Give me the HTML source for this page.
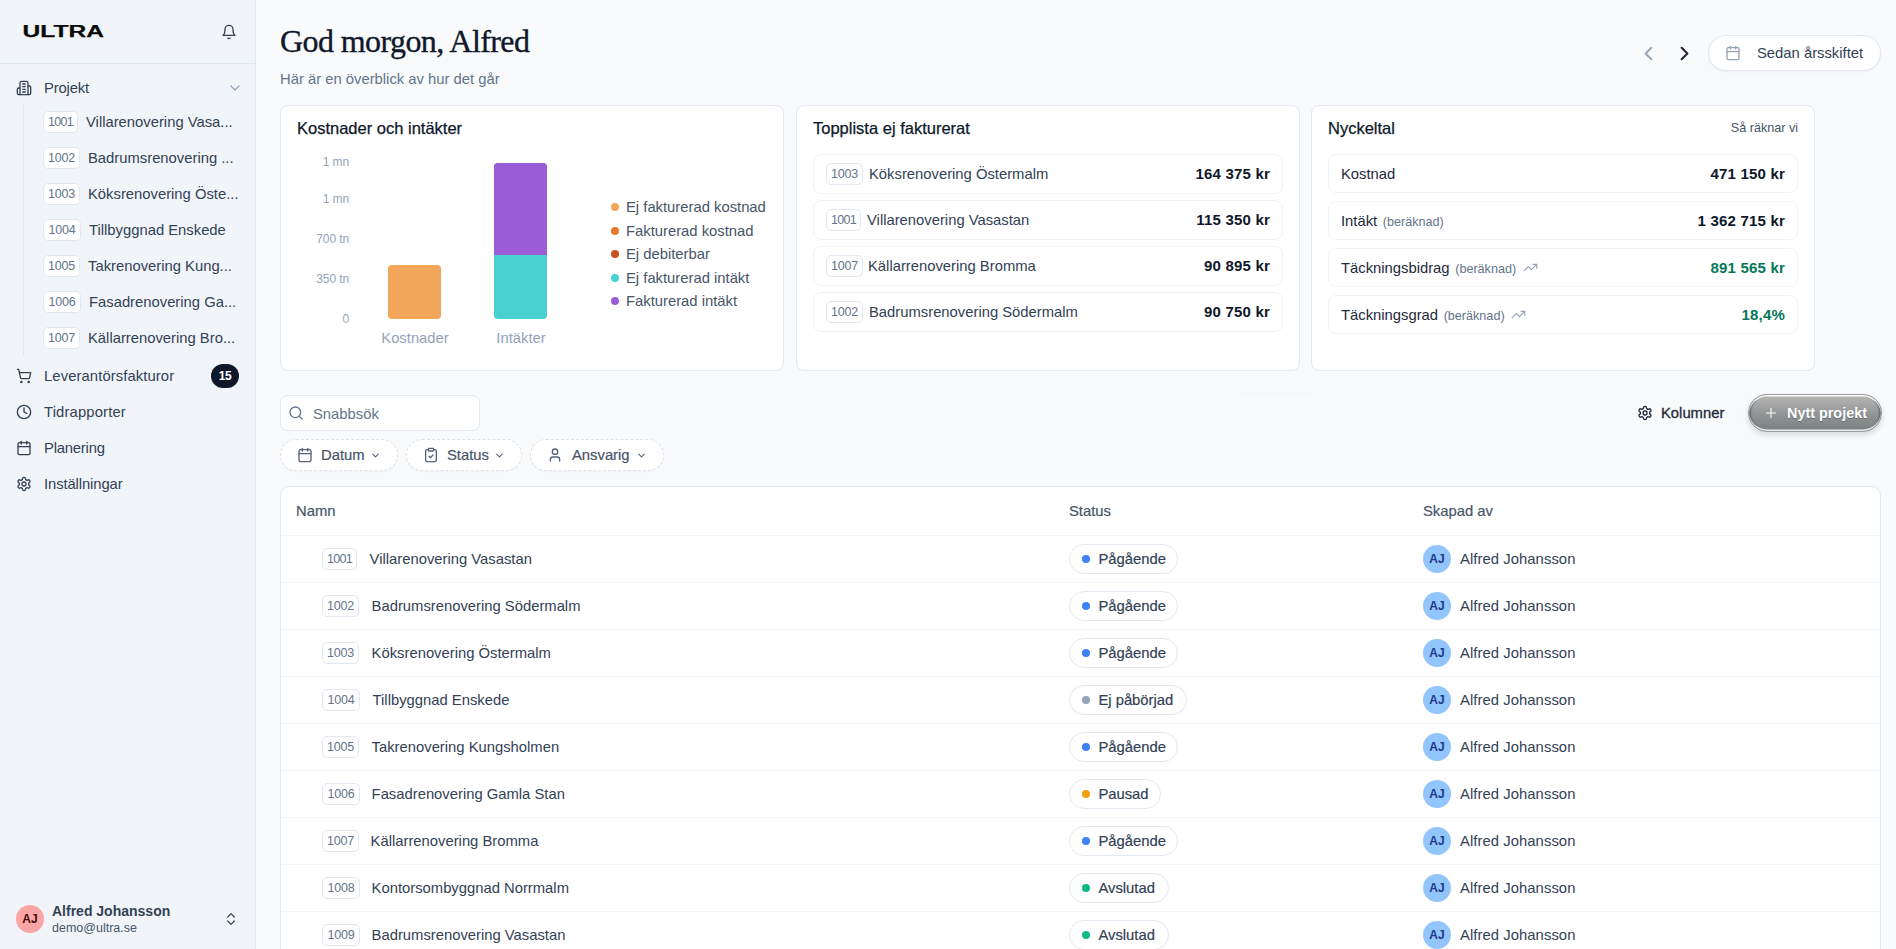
<!DOCTYPE html>
<html lang="sv">
<head>
<meta charset="utf-8">
<title>Ultra – Projekt</title>
<style>
*{box-sizing:border-box;margin:0;padding:0}
html,body{width:1896px;height:949px;overflow:hidden}
body{font-family:"Liberation Sans",Arial,sans-serif;background:#f8fafc;color:#334155;position:relative;font-size:15px;line-height:20px}
.abs{position:absolute}
svg.ic{position:absolute;width:16px;height:16px;fill:none;stroke:currentColor;stroke-width:2;stroke-linecap:round;stroke-linejoin:round}
.t{position:absolute;white-space:nowrap;line-height:20px}
/* sidebar */
#sb{position:absolute;left:0;top:0;width:256px;height:949px;background:#f1f5f9;border-right:1px solid #e2e8f0}
#sbh{position:absolute;left:0;top:0;width:255px;height:64px;border-bottom:1px solid #e2e8f0}
.nav{position:absolute;left:44px;font-size:14.8px;color:#334155;white-space:nowrap;line-height:20px}
.sub{position:absolute;left:43px;height:22px;display:flex;align-items:center;white-space:nowrap}
.bdg{display:inline-block;height:22px;line-height:20px;padding:0;width:36px;border:1px solid #e2e8f0;border-radius:5px;background:#fff;color:#64748b;font-size:12.5px;letter-spacing:-.15px;text-align:center;flex:none}
.sub .nm{margin-left:8px;font-size:14.8px;color:#334155}

/* header */
#h1{position:absolute;left:280px;top:20.5px;font-family:"Liberation Serif","Times New Roman",serif;font-size:32px;line-height:40px;color:#0f172a;white-space:nowrap;letter-spacing:-.58px;-webkit-text-stroke:.35px #0f172a}
#sub{position:absolute;left:280px;top:69px;font-size:14.8px;line-height:20px;color:#64748b;white-space:nowrap}
#datebtn{position:absolute;left:1708px;top:35px;width:173px;height:36px;border:1px solid #e2e8f0;border-radius:18px;background:#fff;box-shadow:0 1px 2px rgba(15,23,42,.06)}
/* cards */
.card{position:absolute;top:105px;width:504px;height:266px;background:#fff;border:1px solid #e2e8f0;border-radius:8px}
.ct{position:absolute;left:16px;top:12px;font-size:16.5px;line-height:20px;color:#0f172a;white-space:nowrap;letter-spacing:0;-webkit-text-stroke:.25px #0f172a}
.row{position:absolute;left:16px;width:470px;height:40px;border:1px solid #eff3f8;border-radius:8px;background:#fff}
.row .bdg{position:absolute;left:12px;top:8px}
.row .nm{position:absolute;top:9px;font-size:14.8px;line-height:20px;color:#334155;white-space:nowrap}
.row .amt{position:absolute;right:12px;top:9px;font-size:15px;letter-spacing:.2px;line-height:20px;font-weight:700;color:#0f172a;white-space:nowrap}
.row .sm{margin-left:1.5px;font-size:12.6px;color:#64748b}
.yl{position:absolute;right:434px;font-size:12px;line-height:12px;letter-spacing:-.1px;color:#94a3b8;white-space:nowrap;text-align:right}
.xl{position:absolute;top:222px;font-size:14.8px;line-height:20px;color:#94a3b8;white-space:nowrap;transform:translateX(-50%)}
.lg{position:absolute;left:345px;font-size:14.8px;line-height:20px;color:#475569;white-space:nowrap}
.lg i{position:absolute;left:-3px;top:6px;width:8px;height:8px;border-radius:50%;margin-left:-12px}

/* toolbar */
#search{position:absolute;left:280px;top:395px;width:200px;height:36px;border:1px solid #e2e8f0;border-radius:7px;background:#fff}
.pill{position:absolute;top:439px;height:32px;border:1px dashed #dbe2ea;border-radius:16px;background:#fff;box-shadow:0 1px 2px rgba(15,23,42,.04)}
.pill .t{top:5px;font-size:14.8px;color:#475569;-webkit-text-stroke:.2px #475569}
.pill svg.ic{top:7px;color:#55627a}
.pill svg.ch{width:11px;height:11px;top:10.4px;margin-left:-.5px;color:#526079;stroke-width:2.3}
#newbtn{position:absolute;left:1748px;top:394px;width:134px;height:38px;border-radius:19px;border:1px solid #9b9ea1;background:linear-gradient(180deg,#b6b6b4 0%,#a3a4a4 30%,#8d9192 60%,#7b8183 100%);box-shadow:inset 0 1.6px 0 0 rgba(255,255,255,.92),inset 0 -1.6px 0 0 rgba(255,255,255,.85),inset 2.5px 0 2px -1px rgba(30,41,59,.55),inset -2.5px 0 2px -1px rgba(30,41,59,.55),0 3px 6px rgba(15,23,42,.14)}
/* table */
#tbl{position:absolute;left:280px;top:486px;width:1601px;height:480px;background:#fff;border:1px solid #e2e8f0;border-radius:9px;overflow:hidden}
.th{position:absolute;top:14px;font-size:14.8px;line-height:20px;color:#475569;white-space:nowrap;-webkit-text-stroke:.2px #475569}
.tr{position:absolute;left:0;width:1599px;height:47px;border-top:1px solid #f1f5f9}
.tr .bdg{position:absolute;left:41px;top:12px;height:22px;line-height:20px}
.tr .nm{position:absolute;top:13px;font-size:14.8px;line-height:20px;color:#334155;white-space:nowrap}
.st{position:absolute;left:788px;top:8px;height:30px;border:1px solid #e2e8f0;border-radius:15px;background:#fff}
.st i{position:absolute;left:12px;top:10px;width:8px;height:8px;border-radius:50%}
.st span{position:absolute;left:28.4px;top:4px;font-size:14.8px;line-height:20px;color:#334155;white-space:nowrap;-webkit-text-stroke:.2px #334155}
.av{position:absolute;left:1142px;top:9px;width:28px;height:28px;border-radius:50%;background:#93c5fd;color:#1e3a8a;font-size:12px;font-weight:700;text-align:center;line-height:28px}
.un{position:absolute;left:1179px;top:13px;font-size:14.8px;letter-spacing:.07px;line-height:20px;color:#334155;white-space:nowrap}
</style>
</head>
<body>
<!-- SIDEBAR -->
<div id="sb">
  <div id="sbh"></div>
  <svg class="abs" style="left:22px;top:20px" width="90" height="24" viewBox="0 0 90 24"><text x="0.6" y="17.2" font-family="Liberation Sans, Arial, sans-serif" font-weight="700" font-size="16.8" fill="#0a0a0a" stroke="#0a0a0a" stroke-width=".25" textLength="81.5" lengthAdjust="spacingAndGlyphs">ULTRA</text></svg>
  <svg class="ic" style="left:221px;top:24px;color:#334155" viewBox="0 0 24 24"><path d="M6 8a6 6 0 0 1 12 0c0 7 3 9 3 9H3s3-2 3-9"/><path d="M10.3 21a1.94 1.94 0 0 0 3.4 0"/></svg>

  <svg class="ic" style="left:16px;top:80px;color:#334155" viewBox="0 0 24 24"><path d="M6 22V4a2 2 0 0 1 2-2h8a2 2 0 0 1 2 2v18Z"/><path d="M6 12H4a2 2 0 0 0-2 2v6a2 2 0 0 0 2 2h2"/><path d="M18 9h2a2 2 0 0 1 2 2v9a2 2 0 0 1-2 2h-2"/><path d="M10 6h4"/><path d="M10 10h4"/><path d="M10 14h4"/><path d="M10 18h4"/></svg>
  <div class="nav" style="top:78px;letter-spacing:-.15px">Projekt</div>
  <svg class="ic" style="left:227px;top:80px;color:#94a3b8;stroke-width:1.8" viewBox="0 0 24 24"><path d="m6 9 6 6 6-6"/></svg>
  <div class="abs" style="left:23px;top:104px;width:1px;height:252px;background:#e2e8f0"></div>

  <div class="sub" style="top:111px"><span class="bdg" style="width:35px;letter-spacing:-.75px">1001</span><span class="nm">Villarenovering Vasa...</span></div>
  <div class="sub" style="top:147px"><span class="bdg" style="width:37px">1002</span><span class="nm">Badrumsrenovering ...</span></div>
  <div class="sub" style="top:183px"><span class="bdg" style="width:37px">1003</span><span class="nm">Köksrenovering Öste...</span></div>
  <div class="sub" style="top:219px"><span class="bdg" style="width:38px">1004</span><span class="nm">Tillbyggnad Enskede</span></div>
  <div class="sub" style="top:255px"><span class="bdg" style="width:37px">1005</span><span class="nm">Takrenovering Kung...</span></div>
  <div class="sub" style="top:291px"><span class="bdg" style="width:38px">1006</span><span class="nm">Fasadrenovering Ga...</span></div>
  <div class="sub" style="top:327px"><span class="bdg" style="width:37px">1007</span><span class="nm">Källarrenovering Bro...</span></div>

  <svg class="ic" style="left:16px;top:368px;color:#334155" viewBox="0 0 24 24"><circle cx="8" cy="21" r="1"/><circle cx="19" cy="21" r="1"/><path d="M2.05 2.05h2l2.66 12.42a2 2 0 0 0 2 1.58h9.78a2 2 0 0 0 1.95-1.57l1.65-7.43H5.12"/></svg>
  <div class="nav" style="top:366px;letter-spacing:.1px">Leverantörsfakturor</div>
  <div class="abs" style="left:211px;top:364px;width:28px;height:24px;border-radius:12px;background:#0f172a;color:#fff;font-size:12px;font-weight:700;text-align:center;line-height:24px;letter-spacing:-.5px">15</div>

  <svg class="ic" style="left:16px;top:404px;color:#334155" viewBox="0 0 24 24"><circle cx="12" cy="12" r="10"/><polyline points="12 6 12 12 16 14"/></svg>
  <div class="nav" style="top:402px;letter-spacing:.15px">Tidrapporter</div>

  <svg class="ic" style="left:16px;top:440px;color:#334155" viewBox="0 0 24 24"><path d="M8 2v4"/><path d="M16 2v4"/><rect width="18" height="18" x="3" y="4" rx="2"/><path d="M3 10h18"/></svg>
  <div class="nav" style="top:438px;letter-spacing:-.2px">Planering</div>

  <svg class="ic" style="left:16px;top:476px;color:#334155" viewBox="0 0 24 24"><path d="M12.22 2h-.44a2 2 0 0 0-2 2v.18a2 2 0 0 1-1 1.73l-.43.25a2 2 0 0 1-2 0l-.15-.08a2 2 0 0 0-2.73.73l-.22.38a2 2 0 0 0 .73 2.73l.15.1a2 2 0 0 1 1 1.72v.51a2 2 0 0 1-1 1.74l-.15.09a2 2 0 0 0-.73 2.73l.22.38a2 2 0 0 0 2.73.73l.15-.08a2 2 0 0 1 2 0l.43.25a2 2 0 0 1 1 1.73V20a2 2 0 0 0 2 2h.44a2 2 0 0 0 2-2v-.18a2 2 0 0 1 1-1.73l.43-.25a2 2 0 0 1 2 0l.15.08a2 2 0 0 0 2.73-.73l.22-.39a2 2 0 0 0-.73-2.73l-.15-.08a2 2 0 0 1-1-1.74v-.5a2 2 0 0 1 1-1.74l.15-.09a2 2 0 0 0 .73-2.73l-.22-.38a2 2 0 0 0-2.73-.73l-.15.08a2 2 0 0 1-2 0l-.43-.25a2 2 0 0 1-1-1.73V4a2 2 0 0 0-2-2z"/><circle cx="12" cy="12" r="3"/></svg>
  <div class="nav" style="top:474px;letter-spacing:-.1px">Inställningar</div>

  <div class="abs" style="left:16px;top:905px;width:28px;height:28px;border-radius:50%;background:#fca5a5;color:#450a0a;font-size:12px;font-weight:700;text-align:center;line-height:28px">AJ</div>
  <div class="t" style="left:52px;top:901px;font-size:14px;font-weight:700;color:#334155">Alfred Johansson</div>
  <div class="t" style="left:52px;top:918px;font-size:12.5px;color:#475569">demo@ultra.se</div>
  <svg class="ic" style="left:223px;top:911px;color:#334155;stroke-width:1.8" viewBox="0 0 24 24"><path d="m7 15 5 5 5-5"/><path d="m7 9 5-5 5 5"/></svg>
</div>

<!-- MAIN -->
<div id="main">
<div id="h1">God morgon, Alfred</div>
<div id="sub">Här är en överblick av hur det går</div>
<svg class="ic" style="left:1636.5px;top:41.5px;width:23px;height:23px;color:#94a3b8" viewBox="0 0 24 24"><path d="m15 18-6-6 6-6"/></svg>
<svg class="ic" style="left:1672.5px;top:41.5px;width:23px;height:23px;color:#1e293b;stroke-width:2.2" viewBox="0 0 24 24"><path d="m9 18 6-6-6-6"/></svg>
<div id="datebtn">
  <svg class="ic" style="left:16px;top:9px;color:#94a3b8" viewBox="0 0 24 24"><path d="M8 2v4"/><path d="M16 2v4"/><rect width="18" height="18" x="3" y="4" rx="2"/><path d="M3 10h18"/></svg>
  <div class="t" style="left:48px;top:7px;font-size:14.8px;color:#334155">Sedan årsskiftet</div>
</div>

<!-- card 1 -->
<div class="card" style="left:280px">
  <div class="ct">Kostnader och intäkter</div>
  <div class="yl" style="top:50px">1 mn</div>
  <div class="yl" style="top:87px">1 mn</div>
  <div class="yl" style="top:127px">700 tn</div>
  <div class="yl" style="top:167px">350 tn</div>
  <div class="yl" style="top:207px">0</div>
  <div class="abs" style="left:107px;top:159px;width:53px;height:54px;border-radius:4px;background:#f2a65a"></div>
  <div class="abs" style="left:213px;top:57px;width:53px;height:156px;border-radius:4px;background:#48d1d1;overflow:hidden"><div style="height:92px;background:#9b5dd6"></div></div>
  <div class="xl" style="left:134px">Kostnader</div>
  <div class="xl" style="left:240px">Intäkter</div>
  <div class="lg" style="top:91px"><i style="background:#f2a65a"></i>Ej fakturerad kostnad</div>
  <div class="lg" style="top:115px"><i style="background:#e8772e"></i>Fakturerad kostnad</div>
  <div class="lg" style="top:138px"><i style="background:#c8511b"></i>Ej debiterbar</div>
  <div class="lg" style="top:162px"><i style="background:#48d1d1"></i>Ej fakturerad intäkt</div>
  <div class="lg" style="top:185px"><i style="background:#9b5dd6"></i>Fakturerad intäkt</div>
</div>
<!-- card 2 -->
<div class="card" style="left:796px">
  <div class="ct">Topplista ej fakturerat</div>
  <div class="row" style="top:48px"><span class="bdg" style="width:37px">1003</span><span class="nm" style="left:55px">Köksrenovering Östermalm</span><span class="amt">164 375 kr</span></div>
  <div class="row" style="top:94px"><span class="bdg" style="width:35px;letter-spacing:-.75px">1001</span><span class="nm" style="left:53px">Villarenovering Vasastan</span><span class="amt">115 350 kr</span></div>
  <div class="row" style="top:140px"><span class="bdg" style="width:37px">1007</span><span class="nm" style="left:54px">Källarrenovering Bromma</span><span class="amt">90 895 kr</span></div>
  <div class="row" style="top:186px"><span class="bdg" style="width:37px">1002</span><span class="nm" style="left:55px">Badrumsrenovering Södermalm</span><span class="amt">90 750 kr</span></div>
</div>
<!-- card 3 -->
<div class="card" style="left:1311px">
  <div class="ct">Nyckeltal</div>
  <div class="t" style="right:16px;top:12px;font-size:12.6px;color:#475569">Så räknar vi</div>
  <div class="row" style="top:48px;height:39px"><span class="nm" style="left:12px;color:#1e293b">Kostnad</span><span class="amt">471 150 kr</span></div>
  <div class="row" style="top:95px;height:39px"><span class="nm" style="left:12px;color:#1e293b">Intäkt <span class="sm">(beräknad)</span></span><span class="amt">1 362 715 kr</span></div>
  <div class="row" style="top:142px;height:39px"><span class="nm" style="left:12px;color:#1e293b">Täckningsbidrag <span class="sm">(beräknad)</span></span><svg class="ic" style="left:194px;top:11px;width:15px;height:15px;color:#94a3b8;stroke-width:1.8" viewBox="0 0 24 24"><polyline points="22 7 13.5 15.5 8.5 10.5 2 17"/><polyline points="16 7 22 7 22 13"/></svg><span class="amt" style="color:#047857">891 565 kr</span></div>
  <div class="row" style="top:189px;height:39px"><span class="nm" style="left:12px;color:#1e293b">Täckningsgrad <span class="sm">(beräknad)</span></span><svg class="ic" style="left:182px;top:11px;width:15px;height:15px;color:#94a3b8;stroke-width:1.8" viewBox="0 0 24 24"><polyline points="22 7 13.5 15.5 8.5 10.5 2 17"/><polyline points="16 7 22 7 22 13"/></svg><span class="amt" style="color:#047857">18,4%</span></div>
</div>

<div class="abs" style="left:1240px;top:393px;width:71px;height:1px;background:rgba(226,232,240,.3)"></div>
<div id="search">
  <svg class="ic" style="left:7px;top:9px;color:#64748b" viewBox="0 0 24 24"><circle cx="11" cy="11" r="8"/><path d="m21 21-4.3-4.3"/></svg>
  <div class="t" style="left:32px;top:8px;font-size:14.8px;color:#64748b">Snabbsök</div>
</div>
<div class="pill" style="left:280px;width:118px">
  <svg class="ic" style="left:16px" viewBox="0 0 24 24"><path d="M8 2v4"/><path d="M16 2v4"/><rect width="18" height="18" x="3" y="4" rx="2"/><path d="M3 10h18"/></svg>
  <div class="t" style="left:40px">Datum</div>
  <svg class="ic ch" style="left:89px" viewBox="0 0 24 24"><path d="m6 9 6 6 6-6"/></svg>
</div>
<div class="pill" style="left:406px;width:116px">
  <svg class="ic" style="left:16px" viewBox="0 0 24 24"><rect width="8" height="4" x="8" y="2" rx="1" ry="1"/><path d="M16 4h2a2 2 0 0 1 2 2v14a2 2 0 0 1-2 2H6a2 2 0 0 1-2-2V6a2 2 0 0 1 2-2h2"/><path d="m9 14 2 2 4-4"/></svg>
  <div class="t" style="left:40px">Status</div>
  <svg class="ic ch" style="left:87px" viewBox="0 0 24 24"><path d="m6 9 6 6 6-6"/></svg>
</div>
<div class="pill" style="left:530px;width:134px">
  <svg class="ic" style="left:16px" viewBox="0 0 24 24"><path d="M19 21v-2a4 4 0 0 0-4-4H9a4 4 0 0 0-4 4v2"/><circle cx="12" cy="7" r="4"/></svg>
  <div class="t" style="left:41px">Ansvarig</div>
  <svg class="ic ch" style="left:105px" viewBox="0 0 24 24"><path d="m6 9 6 6 6-6"/></svg>
</div>
<svg class="ic" style="left:1637px;top:405px;color:#1e293b" viewBox="0 0 24 24"><path d="M12.22 2h-.44a2 2 0 0 0-2 2v.18a2 2 0 0 1-1 1.73l-.43.25a2 2 0 0 1-2 0l-.15-.08a2 2 0 0 0-2.73.73l-.22.38a2 2 0 0 0 .73 2.73l.15.1a2 2 0 0 1 1 1.72v.51a2 2 0 0 1-1 1.74l-.15.09a2 2 0 0 0-.73 2.73l.22.38a2 2 0 0 0 2.73.73l.15-.08a2 2 0 0 1 2 0l.43.25a2 2 0 0 1 1 1.73V20a2 2 0 0 0 2 2h.44a2 2 0 0 0 2-2v-.18a2 2 0 0 1 1-1.73l.43-.25a2 2 0 0 1 2 0l.15.08a2 2 0 0 0 2.73-.73l.22-.39a2 2 0 0 0-.73-2.73l-.15-.08a2 2 0 0 1-1-1.74v-.5a2 2 0 0 1 1-1.74l.15-.09a2 2 0 0 0 .73-2.73l-.22-.38a2 2 0 0 0-2.73-.73l-.15.08a2 2 0 0 1-2 0l-.43-.25a2 2 0 0 1-1-1.73V4a2 2 0 0 0-2-2z"/><circle cx="12" cy="12" r="3"/></svg>
<div class="t" style="left:1661px;top:403px;font-size:14.8px;color:#1e293b;-webkit-text-stroke:.3px #1e293b">Kolumner</div>
<div id="newbtn">
  <svg class="ic" style="left:14px;top:10px;color:#fff;stroke-width:1.6" viewBox="0 0 24 24"><path d="M5 12h14"/><path d="M12 5v14"/></svg>
  <div class="t" style="left:38px;top:8px;font-size:14.4px;font-weight:700;color:#fff;text-shadow:0 1px 1px rgba(0,0,0,.25)">Nytt projekt</div>
</div>

<div id="tbl">
  <div class="th" style="left:15px">Namn</div><div class="th" style="left:788px">Status</div><div class="th" style="left:1142px">Skapad av</div>
  <div class="tr" style="top:48px"><span class="bdg" style="width:35px;letter-spacing:-.75px">1001</span><span class="nm" style="left:88.6px">Villarenovering Vasastan</span><div class="st" style="width:109px"><i style="background:#3b82f6"></i><span>Pågående</span></div><div class="av">AJ</div><div class="un">Alfred Johansson</div></div>
  <div class="tr" style="top:95px"><span class="bdg" style="width:37px">1002</span><span class="nm" style="left:90.6px">Badrumsrenovering Södermalm</span><div class="st" style="width:109px"><i style="background:#3b82f6"></i><span>Pågående</span></div><div class="av">AJ</div><div class="un">Alfred Johansson</div></div>
  <div class="tr" style="top:142px"><span class="bdg" style="width:37px">1003</span><span class="nm" style="left:90.6px">Köksrenovering Östermalm</span><div class="st" style="width:109px"><i style="background:#3b82f6"></i><span>Pågående</span></div><div class="av">AJ</div><div class="un">Alfred Johansson</div></div>
  <div class="tr" style="top:189px"><span class="bdg" style="width:38px">1004</span><span class="nm" style="left:91.6px">Tillbyggnad Enskede</span><div class="st" style="width:118px"><i style="background:#94a3b8"></i><span>Ej påbörjad</span></div><div class="av">AJ</div><div class="un">Alfred Johansson</div></div>
  <div class="tr" style="top:236px"><span class="bdg" style="width:37px">1005</span><span class="nm" style="left:90.6px">Takrenovering Kungsholmen</span><div class="st" style="width:109px"><i style="background:#3b82f6"></i><span>Pågående</span></div><div class="av">AJ</div><div class="un">Alfred Johansson</div></div>
  <div class="tr" style="top:283px"><span class="bdg" style="width:38px">1006</span><span class="nm" style="left:90.6px">Fasadrenovering Gamla Stan</span><div class="st" style="width:92px"><i style="background:#f59e0b"></i><span>Pausad</span></div><div class="av">AJ</div><div class="un">Alfred Johansson</div></div>
  <div class="tr" style="top:330px"><span class="bdg" style="width:37px">1007</span><span class="nm" style="left:89.6px">Källarrenovering Bromma</span><div class="st" style="width:109px"><i style="background:#3b82f6"></i><span>Pågående</span></div><div class="av">AJ</div><div class="un">Alfred Johansson</div></div>
  <div class="tr" style="top:377px"><span class="bdg" style="width:38px">1008</span><span class="nm" style="left:90.6px">Kontorsombyggnad Norrmalm</span><div class="st" style="width:100px"><i style="background:#10b981"></i><span>Avslutad</span></div><div class="av">AJ</div><div class="un">Alfred Johansson</div></div>
  <div class="tr" style="top:424px"><span class="bdg" style="width:38px">1009</span><span class="nm" style="left:90.6px">Badrumsrenovering Vasastan</span><div class="st" style="width:100px"><i style="background:#10b981"></i><span>Avslutad</span></div><div class="av">AJ</div><div class="un">Alfred Johansson</div></div>
</div>

</div>
</body>
</html>
